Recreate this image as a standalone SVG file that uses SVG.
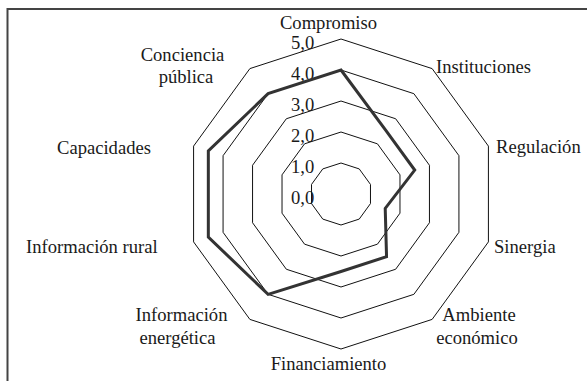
<svg xmlns="http://www.w3.org/2000/svg" width="587" height="381" viewBox="0 0 587 381">
<style>
.grid{fill:none;stroke:#111;stroke-width:1}
.data{fill:none;stroke:#333;stroke-width:3;stroke-linejoin:miter}
.frame{fill:none;stroke:#444;stroke-width:2}
.t{font-family:'Liberation Serif','DejaVu Serif',serif;font-size:18.6px;fill:#1a1a1a}
.m{text-anchor:middle}
</style>
<rect width="587" height="381" fill="#fff"/>
<path class="frame" d="M7.5,381 V9 H587"/>
<g id="grid">
<polygon class="grid" points="341,163 359.22,168.92 370.48,184.42 370.48,203.58 359.22,219.08 341,225 322.78,219.08 311.52,203.58 311.52,184.42 322.78,168.92"/>
<polygon class="grid" points="341,132 377.44,143.84 399.97,174.84 399.97,213.16 377.44,244.16 341,256 304.56,244.16 282.03,213.16 282.03,174.84 304.56,143.84"/>
<polygon class="grid" points="341,101 395.66,118.76 429.45,165.26 429.45,222.74 395.66,269.24 341,287 286.34,269.24 252.55,222.74 252.55,165.26 286.34,118.76"/>
<polygon class="grid" points="341,70 413.89,93.68 458.93,155.68 458.93,232.32 413.89,294.32 341,318 268.11,294.32 223.07,232.32 223.07,155.68 268.11,93.68"/>
<polygon class="grid" points="341,39 432.11,68.6 488.41,146.1 488.41,241.9 432.11,319.4 341,349 249.89,319.4 193.59,241.9 193.59,146.1 249.89,68.6"/>
</g>
<g id="ticks" class="t">
<text x="291" y="203.5">0,0</text>
<text x="291" y="172.5">1,0</text>
<text x="291" y="141.5">2,0</text>
<text x="291" y="110.5">3,0</text>
<text x="291" y="79.5">4,0</text>
<text x="291" y="49">5,0</text>
</g>
<g id="series">
<polygon class="data" points="341,70 386.55,131.3 414.71,170.05 385.22,208.37 386.55,256.7 341,271.5 268.11,294.32 208.33,237.11 208.33,150.89 268.11,93.68"/>
</g>
<g id="labels" class="t">
<g id="compromiso"><text class="m" x="328.5" y="28.5">Compromiso</text></g>
<g id="instituciones"><text x="436" y="72.5">Instituciones</text></g>
<g id="regulacion"><text x="496" y="153">Regulación</text></g>
<g id="sinergia"><text x="494" y="252.5">Sinergia</text></g>
<g id="ambiente"><text class="m" x="479" y="321">Ambiente</text><text class="m" x="477" y="344">económico</text></g>
<g id="financiamiento"><text class="m" x="328.5" y="370">Financiamiento</text></g>
<g id="energetica"><text class="m" x="181.5" y="321">Información</text><text class="m" x="177.5" y="343.5">energética</text></g>
<g id="rural"><text x="26" y="253">Información rural</text></g>
<g id="capacidades"><text x="57" y="154">Capacidades</text></g>
<g id="conciencia"><text class="m" x="182.5" y="61">Conciencia</text><text class="m" x="186" y="82.5">pública</text></g>
</g>
</svg>
